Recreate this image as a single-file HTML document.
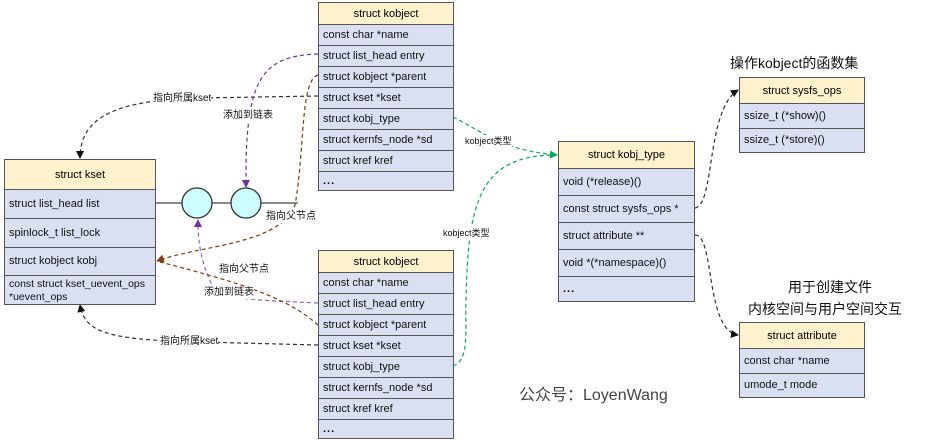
<!DOCTYPE html>
<html><head><meta charset="utf-8"><style>
body{margin:0;width:932px;height:442px;background:#fff;position:relative;overflow:hidden;font-family:"Liberation Sans","Noto Sans CJK SC",sans-serif;}
.b{position:absolute;border:1.5px solid #555;box-sizing:border-box;background:#dae0f2;}
.r{position:absolute;left:0;right:0;border-top:1px solid #555;font-size:11px;color:#111;padding-left:4px;box-sizing:border-box;display:flex;align-items:center;line-height:13px;}
.h{position:absolute;left:0;right:0;top:0;background:#fff2cc;font-size:11px;display:flex;align-items:center;justify-content:center;}
.t{position:absolute;font-size:10px;color:#111;white-space:nowrap;background:#fff;line-height:12px;}
.d{font-weight:bold;letter-spacing:1px;}
svg{position:absolute;left:0;top:0;}
</style></head><body>
<svg width="932" height="442">
<defs>
<marker id="ak" markerWidth="8" markerHeight="8" refX="7" refY="4" orient="auto" markerUnits="userSpaceOnUse"><path d="M0,0L8,4L0,8z" fill="#111"/></marker>
<marker id="ap" markerWidth="8" markerHeight="8" refX="7" refY="4" orient="auto" markerUnits="userSpaceOnUse"><path d="M0,0L8,4L0,8z" fill="#7030a0"/></marker>
<marker id="ab" markerWidth="8" markerHeight="8" refX="7" refY="4" orient="auto" markerUnits="userSpaceOnUse"><path d="M0,0L8,4L0,8z" fill="#843c0c"/></marker>
<marker id="ag" markerWidth="8" markerHeight="8" refX="7" refY="4" orient="auto" markerUnits="userSpaceOnUse"><path d="M0,0L8,4L0,8z" fill="#00b050"/></marker>
</defs>
<line x1="155" y1="203" x2="298" y2="203" stroke="#444" stroke-width="1.3"/>
<circle cx="197" cy="203" r="15" fill="#ccffff" stroke="#333" stroke-width="1.3"/>
<circle cx="246" cy="203" r="15" fill="#ccffff" stroke="#333" stroke-width="1.3"/>
<g fill="none" stroke-dasharray="4,3" stroke-width="1.2">
<path d="M318,96 L200,98 C120,100 80,115 80,158" stroke="#333" marker-end="url(#ak)"/>
<path d="M318,54 C260,56 245,80 246,187" stroke="#7030a0" marker-end="url(#ap)"/>
<path d="M318,75 C300,80 305,150 295,205 C280,245 200,245 157,261" stroke="#843c0c" marker-end="url(#ab)"/>
<path d="M318,303 C260,300 215,300 212,285 C200,260 198,240 198,220" stroke="#9060c0" marker-end="url(#ap)"/>
<path d="M318,325 C290,300 250,285 160,262" stroke="#843c0c"/>
<path d="M318,345 L200,342 C100,340 85,330 80,305" stroke="#333" marker-end="url(#ak)"/>
<path d="M453,117 C480,130 500,150 557,155" stroke="#00b050" marker-end="url(#ag)"/>
<path d="M453,366 C470,360 465,330 466,300 C468,200 480,155 557,155" stroke="#00b050"/>
<path d="M695,208 C715,205 706,110 738,90" stroke="#333" marker-end="url(#ak)"/>
<path d="M695,235 C715,235 705,330 738,335" stroke="#333" marker-end="url(#ak)"/>
</g>
</svg>

<div class="b" style="left:318px;top:2px;width:136px;height:189px">
<div class="h" style="height:21px">struct kobject</div>
<div class="r" style="top:21px;height:21px">const char *name</div>
<div class="r" style="top:42px;height:21px">struct list_head entry</div>
<div class="r" style="top:63px;height:21px">struct kobject *parent</div>
<div class="r" style="top:84px;height:21px">struct kset *kset</div>
<div class="r" style="top:105px;height:21px">struct kobj_type</div>
<div class="r" style="top:126px;height:21px">struct kernfs_node *sd</div>
<div class="r" style="top:147px;height:21px">struct kref kref</div>
<div class="r d" style="top:168px;height:20px">...</div>
</div>
<div class="b" style="left:318px;top:250px;width:136px;height:189px">
<div class="h" style="height:21px">struct kobject</div>
<div class="r" style="top:21px;height:21px">const char *name</div>
<div class="r" style="top:42px;height:21px">struct list_head entry</div>
<div class="r" style="top:63px;height:21px">struct kobject *parent</div>
<div class="r" style="top:84px;height:21px">struct kset *kset</div>
<div class="r" style="top:105px;height:21px">struct kobj_type</div>
<div class="r" style="top:126px;height:21px">struct kernfs_node *sd</div>
<div class="r" style="top:147px;height:21px">struct kref kref</div>
<div class="r d" style="top:168px;height:20px">...</div>
</div>
<div class="b" style="left:4px;top:159px;width:152px;height:146px">
<div class="h" style="height:29px">struct kset</div>
<div class="r" style="top:29px;height:29px">struct list_head list</div>
<div class="r" style="top:58px;height:29px">spinlock_t list_lock</div>
<div class="r" style="top:87px;height:28px">struct kobject kobj</div>
<div class="r" style="top:115px;height:30px;font-size:10.5px">const struct kset_uevent_ops<br>*uevent_ops</div>
</div>
<div class="b" style="left:558px;top:141px;width:137px;height:161px">
<div class="h" style="height:26px">struct kobj_type</div>
<div class="r" style="top:26px;height:27px">void (*release)()</div>
<div class="r" style="top:53px;height:27px">const struct sysfs_ops *</div>
<div class="r" style="top:80px;height:27px">struct attribute **</div>
<div class="r" style="top:107px;height:27px">void *(*namespace)()</div>
<div class="r d" style="top:134px;height:25px">...</div>
</div>
<div class="b" style="left:739px;top:77px;width:126px;height:76px">
<div class="h" style="height:25px">struct sysfs_ops</div>
<div class="r" style="top:25px;height:25px">ssize_t (*show)()</div>
<div class="r" style="top:50px;height:24px">ssize_t (*store)()</div>
</div>
<div class="b" style="left:739px;top:322px;width:126px;height:76px">
<div class="h" style="height:25px">struct attribute</div>
<div class="r" style="top:25px;height:25px">const char *name</div>
<div class="r" style="top:50px;height:24px">umode_t mode</div>
</div>

<div class="t" style="left:153px;top:93px">指向所属kset</div>
<div class="t" style="left:223px;top:110px">添加到链表</div>
<div class="t" style="left:266px;top:211px">指向父节点</div>
<div class="t" style="left:219px;top:264px">指向父节点</div>
<div class="t" style="left:204px;top:287px">添加到链表</div>
<div class="t" style="left:160px;top:336px">指向所属kset</div>
<div class="t" style="left:465px;top:135px;font-size:9px">kobject类型</div>
<div class="t" style="left:443px;top:227px;font-size:9px">kobject类型</div>
<div class="t" style="left:730px;top:55px;font-size:14px;line-height:17px;background:none">操作kobject的函数集</div>
<div class="t" style="left:788px;top:279px;font-size:14px;line-height:17px;background:none">用于创建文件</div>
<div class="t" style="left:748px;top:301px;font-size:14px;line-height:17px;background:none">内核空间与用户空间交互</div>
<div class="t" style="left:519px;top:386px;font-size:16px;line-height:20px;color:#444;background:none">公众号：LoyenWang</div>
</body></html>
